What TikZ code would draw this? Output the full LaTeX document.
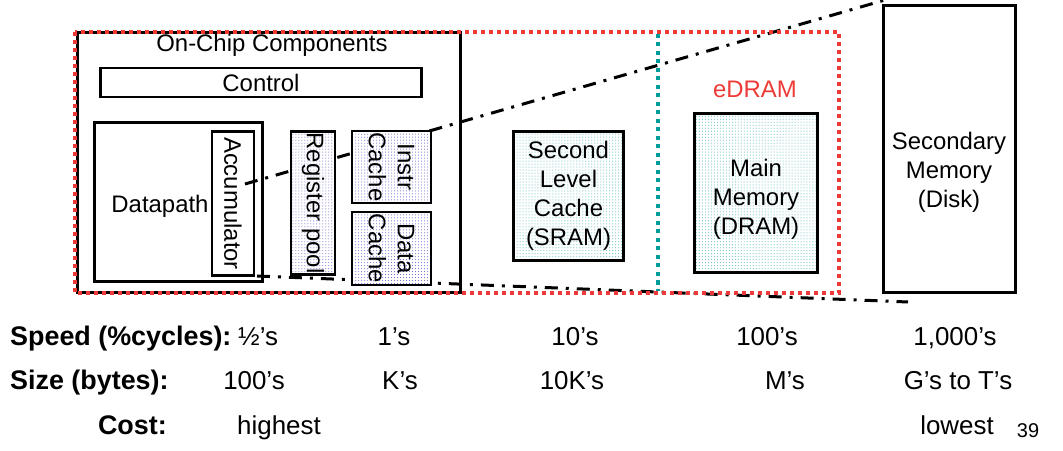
\documentclass[tikz,border=0pt]{standalone}
\usepackage{fontspec}
\setmainfont{Liberation Sans}
\usetikzlibrary{patterns}
\definecolor{myred}{HTML}{EE3A36}
\definecolor{myteal}{HTML}{009C9C}
\definecolor{dotblue}{HTML}{5A5ACF}
\definecolor{dotteal}{HTML}{3FAFB0}
\begin{document}
\begin{tikzpicture}[x=1bp,y=-1bp,
  box/.style={draw=black, line width=2.6bp, inner sep=0pt, fill=white},
  dfont/.style={font=\fontsize{24}{29}\selectfont},
  bfont/.style={font=\fontsize{26}{30}\selectfont},
  bbold/.style={font=\fontsize{27}{30}\selectfont\bfseries},
  bluedots/.style={preaction={fill=white}, pattern=dots, pattern color=dotblue},
  tealdots/.style={preaction={fill=white}, pattern=dots, pattern color=dotteal},
  dashdot/.style={draw=black, line width=3bp, dash pattern=on 13bp off 8bp on 3bp off 8bp},
  reddot/.style={draw=myred, line width=4bp, dash pattern=on 4bp off 4bp},
  tealdot/.style={draw=myteal, line width=4bp, dash pattern=on 4bp off 4.5bp}
]
\useasboundingbox (0,0) rectangle (1063,451);

% On-chip components box
\node[box, minimum width=384, minimum height=261] (onchip) at (269,162.5) {};
\node[dfont, anchor=base] (onchiplbl) at (272,52) {On-Chip Components};
\node[box, dfont, minimum width=322, minimum height=29] (control) at (261,82.5) {Control};
\node[box, minimum width=169, minimum height=160] (datapath) at (178.5,202) {};
\node[dfont] (dplbl) at (160,206) {Datapath};
\node[box, dfont, rotate=-90, minimum width=145, minimum height=42] (acc) at (233,203.5) {Accumulator};

% dash-dot lines (behind the storage boxes)
\coordinate (t1) at (245,184);
\coordinate (t2) at (885,0);
\coordinate (b1) at (257,276);
\coordinate (b2) at (908,302);
\draw[dashdot] (t1) -- (t2);
\draw[dashdot] (b1) -- (b2);

\node[box, bluedots, dfont, rotate=-90, minimum width=144, minimum height=44] (reg) at (313,203) {Register pool};
\node[box, bluedots, dfont, rotate=-90, align=center, minimum width=72, minimum height=79] (icache) at (391.5,167) {Instr\\Cache};
\node[box, bluedots, dfont, rotate=-90, align=center, minimum width=73, minimum height=79] (dcache) at (391.5,248.5) {Data\\Cache};

\node[box, tealdots, dfont, align=center, minimum width=111, minimum height=130] (l2) at (568.5,196) {Second\\Level\\Cache\\(SRAM)};
\node[box, tealdots, minimum width=124, minimum height=160] (mainmem) at (756,193) {};
\node[dfont, align=center] (mainlbl) at (756,199) {Main\\Memory\\(DRAM)};
\node[dfont, text=myred] (edram) at (755,89) {eDRAM};
\node[box, minimum width=133, minimum height=288] (sec) at (949.5,149) {};
\node[dfont, align=center] (seclbl) at (949,172) {Secondary\\Memory\\(Disk)};

% dotted boundaries
\coordinate (rA) at (75,32);
\coordinate (rB) at (839,293);
\draw[reddot] (rA) rectangle (rB);
\coordinate (tA) at (658,34);
\coordinate (tB) at (658,291);
\draw[tealdot] (tA) -- (tB);

% bottom table
\node[bbold, anchor=base west, inner sep=0pt] (speedl) at (10,346) {Speed (\%cycles):};
\node[bfont, anchor=base west, inner sep=0pt] (s1) at (238,346) {½’s};
\node[bfont, anchor=base, inner sep=0pt] (s2) at (394,346) {1’s};
\node[bfont, anchor=base, inner sep=0pt] (s3) at (575,346) {10’s};
\node[bfont, anchor=base, inner sep=0pt] (s4) at (767,346) {100’s};
\node[bfont, anchor=base, inner sep=0pt] (s5) at (955,346) {1,000’s};

\node[bbold, anchor=base west, inner sep=0pt] (sizel) at (10,390) {Size (bytes):};
\node[bfont, anchor=base, inner sep=0pt] (z1) at (254,390) {100’s};
\node[bfont, anchor=base, inner sep=0pt] (z2) at (400,390) {K’s};
\node[bfont, anchor=base, inner sep=0pt] (z3) at (572,390) {10K’s};
\node[bfont, anchor=base, inner sep=0pt] (z4) at (785,390) {M’s};
\node[bfont, anchor=base, inner sep=0pt] (z5) at (958,390) {G’s to T’s};

\node[bbold, anchor=base east, inner sep=0pt] (costl) at (167,434) {Cost:};
\node[bfont, anchor=base, inner sep=0pt] (c1) at (279,434) {highest};
\node[bfont, anchor=base, inner sep=0pt] (c2) at (957,434) {lowest};
\node[font=\fontsize{20}{24}\selectfont, anchor=base, inner sep=0pt] (pg) at (1028,437) {39};
\end{tikzpicture}
\end{document}
